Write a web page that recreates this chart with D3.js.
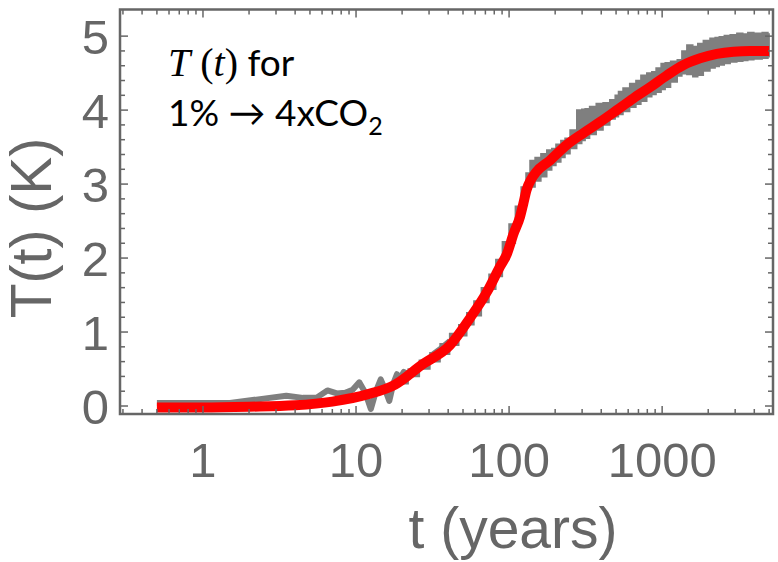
<!DOCTYPE html>
<html><head><meta charset="utf-8">
<script src="https://cdn.jsdelivr.net/npm/d3@7"></script>
<style>html,body{margin:0;padding:0;background:#fff;}svg{display:block;}</style>
</head><body>
<svg id="c" width="778" height="562"></svg>
<script>
// ---- data ----
const xTickValues = [1, 10, 100, 1000];
const xTickLabels = ["1", "10", "100", "1000"];
const yTickValues = [0, 1, 2, 3, 4, 5];
const yTickLabels = ["0", "1", "2", "3", "4", "5"];

// fitted curve (red)
const fitT = [0.5, 1, 2, 4, 7, 12, 18, 27, 41, 56, 72, 87, 97, 107, 118, 124, 130, 140, 150, 185, 238, 306, 393, 506, 649, 835, 1074, 1380, 1770, 2276, 2925, 3760, 5000];
const fitV = [-0.02, -0.02, -0.01, 0.01, 0.06, 0.16, 0.29, 0.56, 0.82, 1.2, 1.55, 1.88, 2.06, 2.33, 2.56, 2.74, 2.92, 3.07, 3.16, 3.32, 3.53, 3.69, 3.84, 4.0, 4.16, 4.31, 4.47, 4.61, 4.70, 4.76, 4.79, 4.80, 4.80];

// simulated annual values, early years (gray line)
const earlyT = [0.5, 1.5, 2.5, 3.5, 4.5, 5.5, 6.5, 7.5, 8.5, 9.5, 10.5, 11.5, 12.5, 13.5, 14.5, 15.5, 16.5, 17.5, 18.5, 19.5, 20.5, 22.5, 25, 28, 32, 36, 41];
const earlyV = [0.04, 0.04, 0.10, 0.14, 0.11, 0.11, 0.21, 0.17, 0.18, 0.22, 0.32, 0.18, -0.04, 0.2, 0.36, 0.22, 0.07, 0.3, 0.43, 0.38, 0.46, 0.42, 0.52, 0.58, 0.7, 0.78, 0.88];

// simulated values, later years (gray band: low / high envelope)
const bandT  = [20, 24, 28, 33, 38, 44, 50, 56, 62, 70, 78, 86, 95, 105, 115, 125, 133, 141, 155, 168, 185, 195, 210, 226, 238, 263, 291, 306, 322, 350, 393, 430, 481, 506, 531, 580, 649, 700, 754, 835, 877, 950, 1020, 1074, 1200, 1312, 1380, 1524, 1650, 1770, 1950, 2163, 2276, 2450, 2648, 2925, 3236, 3500, 3760, 4200, 4830, 5000];
const bandLo = [0.30, 0.40, 0.50, 0.60, 0.70, 0.82, 0.95, 1.10, 1.22, 1.40, 1.58, 1.75, 1.98, 2.20, 2.45, 2.70, 2.90, 2.96, 3.04, 3.10, 3.19, 3.25, 3.30, 3.36, 3.41, 3.48, 3.55, 3.59, 3.62, 3.67, 3.73, 3.80, 3.88, 3.91, 3.94, 3.98, 4.04, 4.08, 4.12, 4.18, 4.21, 4.24, 4.28, 4.31, 4.38, 4.46, 4.49, 4.48, 4.45, 4.47, 4.53, 4.57, 4.59, 4.61, 4.63, 4.65, 4.66, 4.67, 4.68, 4.69, 4.70, 4.72];
const bandHi = [0.45, 0.50, 0.62, 0.72, 0.84, 0.98, 1.10, 1.26, 1.42, 1.60, 1.78, 1.98, 2.22, 2.46, 2.70, 2.96, 3.15, 3.32, 3.36, 3.41, 3.46, 3.48, 3.54, 3.59, 3.62, 3.73, 4.00, 4.01, 4.02, 4.05, 4.09, 4.10, 4.14, 4.20, 4.25, 4.30, 4.36, 4.40, 4.47, 4.50, 4.52, 4.57, 4.63, 4.64, 4.66, 4.68, 4.80, 4.88, 4.86, 4.90, 4.94, 4.97, 4.98, 4.99, 5.01, 5.02, 5.04, 5.03, 5.05, 5.04, 5.05, 5.03];

// ---- drawing ----
const svg = d3.select("#c");
const L = 120, R = 773, T0 = 9.5, B = 414;
const x = d3.scaleLog().domain([0.287, 5300]).range([L, R]);
const y = d3.scaleLinear().domain([-0.108, 5.36]).range([B, T0]);
const frameCol = "#666";
const grayCol = "#7f7f7f";

const g = svg.append("g");
g.append("defs").append("clipPath").attr("id", "clip")
  .append("rect").attr("x", L).attr("y", T0).attr("width", R - L).attr("height", B - T0);

const plot = g.append("g").attr("clip-path", "url(#clip)");

// gray band
const band = bandT.map((t, i) => ({t, lo: bandLo[i], hi: bandHi[i]}));
plot.append("path").datum(band)
  .attr("fill", grayCol).attr("stroke", grayCol).attr("stroke-width", 1.5)
  .attr("d", d3.area().x(d => x(d.t)).y0(d => y(d.lo)).y1(d => y(d.hi)).curve(d3.curveStep));

// gray early line
const early = earlyT.map((t, i) => ({t, v: earlyV[i]}));
plot.append("path").datum(early)
  .attr("fill", "none").attr("stroke", grayCol).attr("stroke-width", 6).attr("stroke-linejoin", "round")
  .attr("d", d3.line().x(d => x(d.t)).y(d => y(d.v)));

// red fit
const fit = fitT.map((t, i) => ({t, v: fitV[i]}));
plot.append("path").datum(fit)
  .attr("fill", "none").attr("stroke", "#ff0000").attr("stroke-width", 10).attr("stroke-linecap", "butt")
  .attr("d", d3.line().x(d => x(d.t)).y(d => y(d.v)).curve(d3.curveMonotoneX));

// ticks
const xMinor = [];
for (let e = -1; e <= 3; e++) for (let m = 1; m <= 9; m++) {
  const v = m * Math.pow(10, e);
  if (v > 0.287 && v < 5300) xMinor.push(v);
}
const yMinor = d3.range(0, 26).map(i => i * 0.2).filter(v => Math.abs(v - Math.round(v)) > 1e-6);
const tk = g.append("g").attr("stroke", frameCol).attr("stroke-width", 1.5);
xMinor.forEach(v => {
  const major = xTickValues.includes(v);
  const len = major ? 8 : 5;
  tk.append("line").attr("x1", x(v)).attr("x2", x(v)).attr("y1", B).attr("y2", B - len);
  tk.append("line").attr("x1", x(v)).attr("x2", x(v)).attr("y1", T0).attr("y2", T0 + len);
});
yTickValues.forEach(v => {
  tk.append("line").attr("x1", L).attr("x2", L + 8).attr("y1", y(v)).attr("y2", y(v));
  tk.append("line").attr("x1", R).attr("x2", R - 8).attr("y1", y(v)).attr("y2", y(v));
});
yMinor.forEach(v => {
  tk.append("line").attr("x1", L).attr("x2", L + 5).attr("y1", y(v)).attr("y2", y(v));
  tk.append("line").attr("x1", R).attr("x2", R - 5).attr("y1", y(v)).attr("y2", y(v));
});

// frame
g.append("rect").attr("x", L).attr("y", T0).attr("width", R - L).attr("height", B - T0)
  .attr("fill", "none").attr("stroke", frameCol).attr("stroke-width", 2.5);

// tick labels
const lab = g.append("g").attr("fill", "#666").attr("font-family", "Liberation Sans, Arial, sans-serif");
yTickValues.forEach((v, i) => {
  lab.append("text").attr("x", 109).attr("y", y(v)).attr("dy", "0.36em").attr("font-size", 49)
    .attr("text-anchor", "end").text(yTickLabels[i]);
});
xTickValues.forEach((v, i) => {
  lab.append("text").attr("x", x(v)).attr("y", 477).attr("font-size", 49)
    .attr("text-anchor", "middle").text(xTickLabels[i]);
});

// axis titles
lab.append("text").attr("x", 513).attr("y", 548).attr("font-size", 57).attr("text-anchor", "middle").text("t (years)");
lab.append("text").attr("transform", "translate(51,228) rotate(-90)").attr("font-size", 57)
  .attr("text-anchor", "middle").text("T(t) (K)");

// annotation
const serif = "Liberation Serif, Times New Roman, serif";
const ann = g.append("g").attr("fill", "#000");
const t1 = ann.append("text").attr("x", 168).attr("y", 76).attr("font-size", 40);
t1.append("tspan").attr("font-family", serif).attr("font-style", "italic").text("T");
t1.append("tspan").attr("font-family", serif).text(" (");
t1.append("tspan").attr("font-family", serif).attr("font-style", "italic").text("t");
t1.append("tspan").attr("font-family", serif).text(")");
t1.append("tspan").attr("font-family", "Lato, sans-serif").attr("font-size", 37).text(" for");
const t2 = ann.append("text").attr("x", 168).attr("y", 126).attr("font-family", "Lato, sans-serif").attr("font-size", 37);
t2.append("tspan").text("1% \u2192 4xCO");
t2.append("tspan").attr("font-size", 25).attr("dy", 9).text("2");
</script>
</body></html>
